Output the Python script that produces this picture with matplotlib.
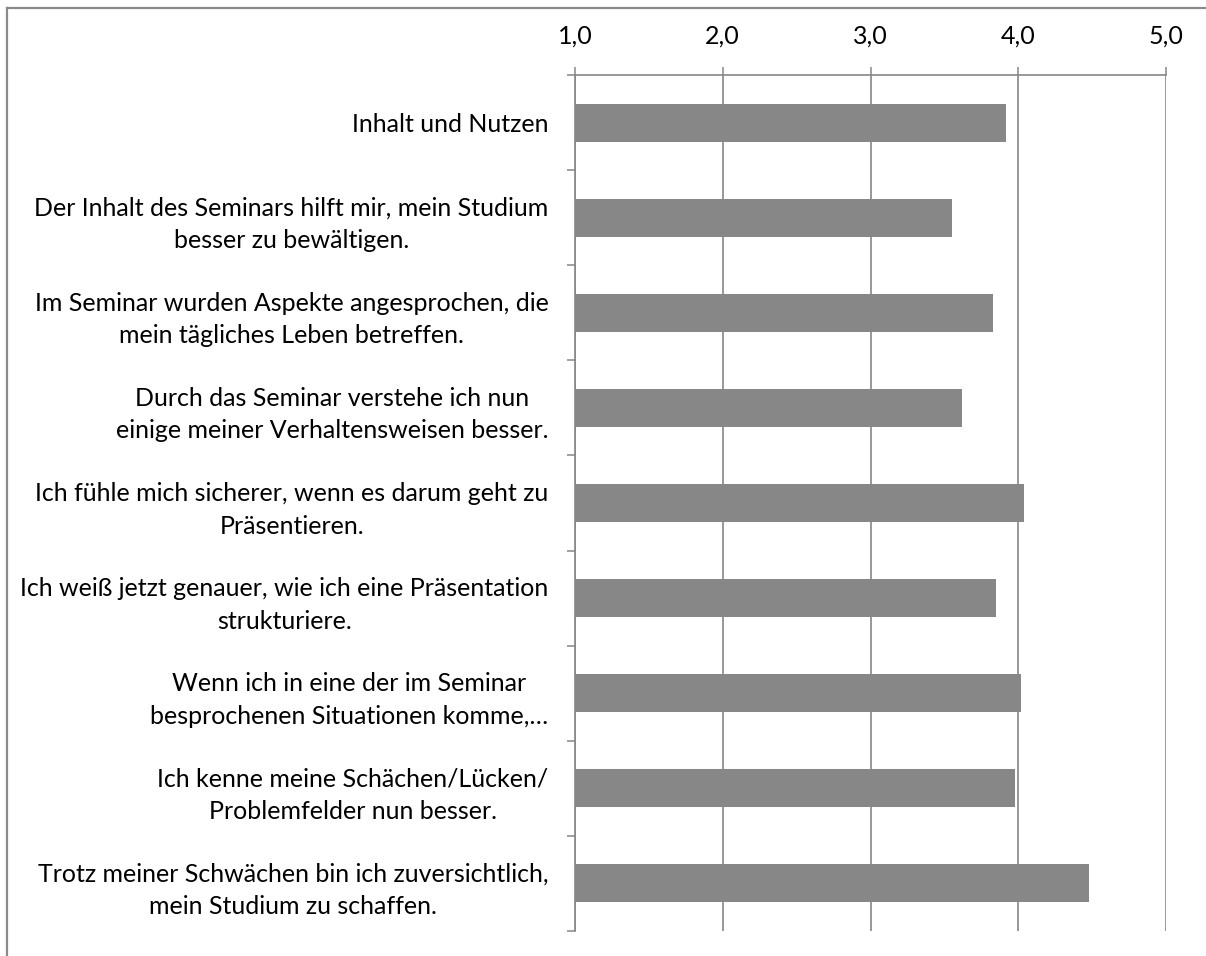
import matplotlib.pyplot as plt
import matplotlib.lines as mlines

labels = [
    "Inhalt und Nutzen",
    "Der Inhalt des Seminars hilft mir, mein Studium\nbesser zu bewältigen.",
    "Im Seminar wurden Aspekte angesprochen, die\nmein tägliches Leben betreffen.",
    "Durch das Seminar verstehe ich nun\neinige meiner Verhaltensweisen besser.",
    "Ich fühle mich sicherer, wenn es darum geht zu\nPräsentieren.",
    "Ich weiß jetzt genauer, wie ich eine Präsentation\nstrukturiere.",
    "Wenn ich in eine der im Seminar\nbesprochenen Situationen komme,…",
    "Ich kenne meine Schächen/Lücken/\nProblemfelder nun besser.",
    "Trotz meiner Schwächen bin ich zuversichtlich,\nmein Studium zu schaffen.",
]
values = [3.92, 3.55, 3.83, 3.62, 4.04, 3.85, 4.02, 3.98, 4.48]
xticks = [1, 2, 3, 4, 5]
xticklabels = ["1,0", "2,0", "3,0", "4,0", "5,0"]

grey = "#868686"
plt.rcParams['font.family'] = ['Lato', 'DejaVu Sans']
fs = 18

fig = plt.figure(figsize=(12.06, 9.56), dpi=100)
W, H = 1206, 956
ax = fig.add_axes([575 / W, 1 - 931 / H, (1166 - 575) / W, (931 - 75) / H])

n = len(labels)
ax.barh(range(n), values, height=0.4, color="#878787", zorder=3)
ax.set_xlim(1, 5)
ax.set_ylim(n - 0.5, -0.5)

ax.xaxis.tick_top()
ax.set_xticks(xticks)
ax.set_xticklabels(xticklabels, fontsize=fs)
ax.tick_params(axis='x', length=6, width=1.1, color=grey, pad=14)
ax.grid(axis='x', color=grey, lw=1.2, zorder=0)

ax.set_yticks(range(n))
ax.set_yticklabels(labels, fontsize=fs)
for t in ax.get_yticklabels():
    t.set_multialignment('center')
    t.set_linespacing(1.5)
ax.tick_params(axis='y', which='major', length=0, pad=19)
ax.set_yticks([i - 0.5 for i in range(n + 1)], minor=True)
ax.tick_params(axis='y', which='minor', length=6, width=1.1, color=grey, direction='out')

for s in ['right', 'bottom']:
    ax.spines[s].set_visible(False)
for s in ['left', 'top']:
    ax.spines[s].set_color(grey)
    ax.spines[s].set_linewidth(1.2)

# chart frame (top and left edge)
fig.add_artist(mlines.Line2D([7 / W, 1], [1 - 8 / H, 1 - 8 / H], color="#8a8a8a", lw=1.6))
fig.add_artist(mlines.Line2D([7 / W, 7 / W], [0, 1 - 8 / H], color="#8a8a8a", lw=1.6))

fig.savefig("out.png", dpi=100)
